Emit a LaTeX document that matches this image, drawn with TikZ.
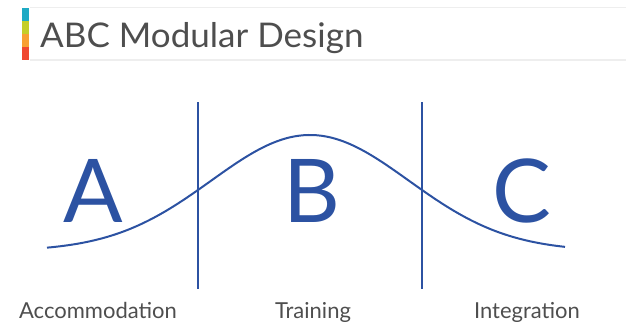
\documentclass[tikz,border=0pt]{standalone}
\usepackage{fontspec}
\setmainfont{Lato}
\usetikzlibrary{positioning}

\definecolor{abcblue}{RGB}{44,82,162}
\definecolor{titlegray}{RGB}{78,78,78}
\definecolor{barline}{RGB}{238,238,238}
\definecolor{stripteal}{RGB}{30,170,196}
\definecolor{striplime}{RGB}{196,206,40}
\definecolor{striporange}{RGB}{248,160,50}
\definecolor{stripred}{RGB}{240,72,48}

\begin{document}
\begin{tikzpicture}[x=1pt, y=-1pt]
    \useasboundingbox (0,0) rectangle (626,324);

    % Title bar
    \draw[line width=1.2pt, barline] (30,7.5) -- (626,7.5);
    \draw[line width=1.2pt, barline] (30,60) -- (626,60);
    \fill[stripteal] (22,8) rectangle (29,21);
    \fill[striplime] (22,21) rectangle (29,34);
    \fill[striporange] (22,34) rectangle (29,47);
    \fill[stripred] (22,47) rectangle (29,60);
    \node[anchor=base west, inner sep=0pt, font=\fontsize{34}{36}\selectfont, xscale=1.03, titlegray] (title) at (40,47) {ABC Modular Design};

    % Dividers
    \draw[line width=1.1pt, abcblue] (198,102) -- (198,289);
    \draw[line width=1.1pt, abcblue] (422,102) -- (422,289);

    % Bell curve
    \draw[line width=2pt, abcblue, domain=47:565, samples=120, smooth]
        plot (\x, {251-116*exp(-((\x-310)/98.8)^2/2)});

    % Phase letters and names
    \foreach \x/\ltr/\lx/\lbl in {
        93/A/98/Accommodation,
        312/B/313/Training,
        522/C/527/Integration
    } {
        \node[anchor=base, inner sep=0pt, font=\fontsize{88}{90}\selectfont, abcblue] (big\ltr) at (\x,222) {\ltr};
        \node[anchor=base, inner sep=0pt, font=\fontsize{22}{24}\selectfont, titlegray] (name\ltr) at (\lx,318.5) {\lbl};
    }
\end{tikzpicture}
\end{document}
